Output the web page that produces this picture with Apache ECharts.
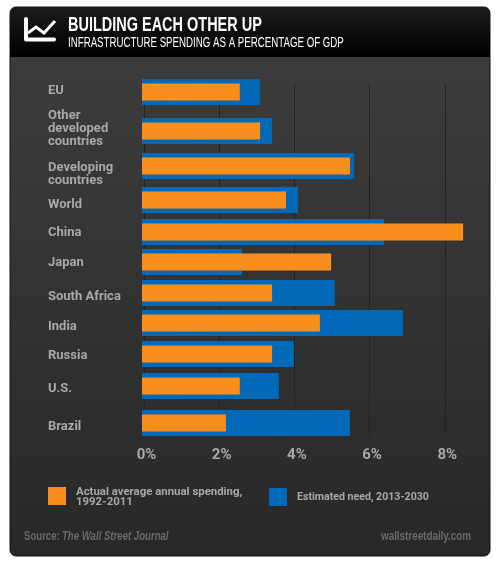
<!DOCTYPE html>
<html><head><meta charset="utf-8">
<style>html,body{margin:0;padding:0;background:#fff}#c{width:500px;height:565px}</style>
<script src="https://cdn.jsdelivr.net/npm/echarts@6/dist/echarts.min.js"></script>
</head><body><div id="c"></div>
<script>
const categories = ['EU','Other\ndeveloped\ncountries','Developing\ncountries','World','China','Japan','South Africa','India','Russia','U.S.','Brazil'];
const actualSpending = [2.6,3.14,5.53,3.83,8.54,5.03,3.46,4.73,3.46,2.6,2.23];
const estimatedNeed = [3.14,3.46,5.64,4.15,6.44,2.66,5.13,6.94,4.04,3.64,5.53];
const xTicks = [0,2,4,6,8];
const actualName = 'Actual average annual spending,\n1992-2011';
const needName = 'Estimated need, 2013-2030';

// Layout only: the reference's rows are hand placed, so each row has its own band
const rowTop = [79,118,153,187,219,249,280,310,341,373,410];
const labelShift = [-1,-2,8,5,1,1,4,4,2,3,4];
const FONT = 'Roboto,"Liberation Sans",sans-serif';
const NARROW = '"Liberation Sans",sans-serif';
const MAXV = 8.8, PLOTW = 37.6*MAXV;
const hatch = c => ({symbol:'rect',dashArrayX:[1,0],dashArrayY:[2,3],rotation:-Math.PI/4,color:c});
const orange = {color:'#F98F1C',decal:hatch('rgba(238,130,20,0.25)')};
const blue = {color:'#006BBB',decal:hatch('rgba(0,92,165,0.3)')};
const labelColor = '#a8a8a8';

const grid=[{left:144,top:84,width:PLOTW,height:352}], xAxis=[{
  gridIndex:0,type:'value',min:0,max:MAXV,interval:2,
  axisLine:{show:false},axisTick:{show:false},
  splitLine:{show:true,showMaxLine:false,lineStyle:{color:'#222222',width:1}},
  axisLabel:{color:labelColor,fontFamily:FONT,fontWeight:'bold',fontSize:15,margin:12,showMaxLabel:false,
    padding:[0,0,0,5],textShadowColor:'#111',textShadowOffsetY:1,
    formatter:v=>xTicks.includes(v)?v+'%':''}
}], yAxis=[{gridIndex:0,type:'category',data:[''],show:false}], series=[];

categories.forEach((cat,i)=>{
  // label band
  grid.push({left:142,top:rowTop[i]+labelShift[i],width:PLOTW,height:26});
  const lg=grid.length-1;
  xAxis.push({gridIndex:lg,type:'value',min:0,max:MAXV,show:false});
  yAxis.push({gridIndex:lg,type:'category',data:[cat],
    axisLine:{show:false},axisTick:{show:false},
    axisLabel:{align:'left',margin:94,color:labelColor,fontFamily:FONT,fontWeight:'bold',fontSize:13,lineHeight:13,
      textShadowColor:'#111',textShadowOffsetY:1}});
  // bar band
  grid.push({left:142,top:rowTop[i],width:PLOTW,height:26});
  const g=grid.length-1;
  xAxis.push({gridIndex:g,type:'value',min:0,max:MAXV,show:false});
  yAxis.push({gridIndex:g,type:'category',data:[cat],show:false});
  const yNeed=yAxis.length-1;
  yAxis.push({gridIndex:g,type:'category',data:[cat],show:false});
  const yAct=yAxis.length-1;
  const xi=xAxis.length-1;
  series.push({name:needName,type:'bar',xAxisIndex:xi,yAxisIndex:yNeed,barWidth:26,silent:true,
    itemStyle:blue,data:[estimatedNeed[i]],z:2});
  series.push({name:actualName,type:'bar',xAxisIndex:xi,yAxisIndex:yAct,barWidth:17,silent:true,
    itemStyle:orange,data:[actualSpending[i]],z:3});
});

const richBase={color:labelColor,fontFamily:FONT,fontWeight:'bold',fontSize:11.4,lineHeight:13};
const legendText={padding:[0,0,0,5],rich:{
  t:Object.assign({},richBase,{padding:[6,0,0,0]}),
  b:Object.assign({},richBase)}};
const legendText2={color:labelColor,fontFamily:FONT,fontWeight:'bold',fontSize:10.6,lineHeight:13,padding:[0,0,0,5]};
const chart=echarts.init(document.getElementById('c'),null,{renderer:'canvas'});
const txt=(t,x,y,size,weight,color,sx)=>({type:'text',z:6,x,y,scaleX:sx,
  style:{text:t,fill:color,font:weight+' '+size+'px '+NARROW}});
chart.setOption({
  animation:false,
  backgroundColor:'#fff',
  grid,xAxis,yAxis,series,
  legend:[
    {left:48,top:481,padding:0,itemWidth:18,itemHeight:18,icon:'rect',data:[actualName],selectedMode:false,textStyle:legendText,
     formatter:n=>{const p=n.split('\n');return '{t|'+p[0]+'}\n{b|'+p[1]+'}';}},
    {left:269,top:488,padding:0,itemWidth:18,itemHeight:18,icon:'rect',data:[needName],selectedMode:false,textStyle:legendText2}
  ],
  graphic:[
    {type:'rect',z:-10,shape:{x:10,y:7,width:480,height:549,r:6},style:{fill:new echarts.graphic.LinearGradient(0,0,0,1,[{offset:0,color:'#3e3e3e'},{offset:1,color:'#282828'}]),stroke:'#111',lineWidth:1}},
    {type:'rect',z:-9,shape:{x:10,y:7,width:480,height:50,r:[6,6,0,0]},style:{fill:new echarts.graphic.LinearGradient(0,0,0,1,[{offset:0,color:'#1c1c1c'},{offset:1,color:'#000'}])}},
    {type:'polyline',z:5,shape:{points:[[26,19],[26,39.5],[54,39.5]]},style:{fill:null,stroke:'#fff',lineWidth:4,lineJoin:'round',lineCap:'round'}},
    {type:'polyline',z:5,shape:{points:[[28,33],[36,27],[44,33],[55,21]]},style:{fill:null,stroke:'#fff',lineWidth:3,lineJoin:'miter'}},
    txt('BUILDING EACH OTHER UP',68,15,20,'bold','#fff',0.724),
    txt('INFRASTRUCTURE SPENDING AS A PERCENTAGE OF GDP',68,36,14,'normal','#fff',0.693),
    txt('Source: ',24,531,12,'bold','#6a6a6a',0.8),
    txt('The Wall Street Journal',62,531,12,'italic bold','#6a6a6a',0.8),
    txt('wallstreetdaily.com',381,531,12,'bold','#6a6a6a',0.82)
  ]
});
</script></body></html>
